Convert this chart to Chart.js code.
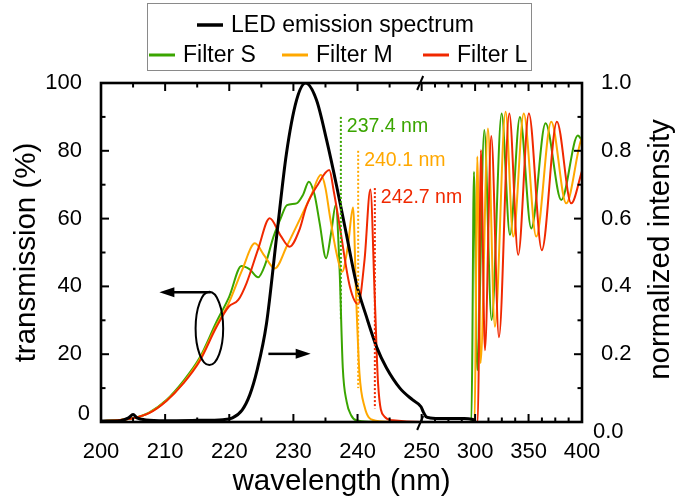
<!DOCTYPE html>
<html>
<head>
<meta charset="utf-8">
<script src="https://cdn.jsdelivr.net/npm/chart.js@4.4.1/dist/chart.umd.min.js"></script>
<style>
html,body{margin:0;padding:0;background:#fff;}
canvas{display:block;}
</style>
</head>
<body>
<canvas id="c" width="686" height="500"></canvas>
<script>
// ---------------- data ----------------
const xTicks = [200, 210, 220, 230, 240, 250, 300, 350, 400];
const xMinorTicks = [205, 215, 225, 235, 245, 262.5, 275, 287.5, 312.5, 325, 337.5, 362.5, 375, 387.5];
const yLeftTicks = [0, 20, 40, 60, 80, 100];
const yLeftMinor = [10, 30, 50, 70, 90];
const yRightTicks = [0, 0.2, 0.4, 0.6, 0.8, 1.0];
const yRightMinor = [0.1, 0.3, 0.5, 0.7, 0.9];

const seriesLabels = ['LED emission spectrum', 'Filter S', 'Filter M', 'Filter L'];
const seriesColors = ['#000000', '#3aa500', '#ffa800', '#f02800'];

const ledWl = [200,203,204.3,205,205.6,207,210,215,219,220.5,222,223.2,224.3,225.8,227.4,228.9,230.5,231.9,233.6,235.2,236.7,238.3,239.8,241.4,243.0,244.5,246.6,248.6,249.9,251.5,254,258,270,290,297,300];
const ledI  = [0.003,0.004,0.012,0.022,0.012,0.006,0.004,0.005,0.007,0.012,0.035,0.08,0.15,0.29,0.55,0.79,0.95,1.0,0.95,0.83,0.70,0.55,0.41,0.31,0.22,0.16,0.10,0.065,0.045,0.03,0.016,0.012,0.01,0.01,0.008,0.005];

const sWl = [200,203,205,207.5,210.2,212.8,215.4,218,220,221.9,223.2,224.5,225.7,226.9,228,229,230.5,231.5,232.4,233.3,234.1,235.1,235.9,236.6,237.2,237.7,238.3,239,239.8,242,250,296.5,297.5,298.3,298.9,302,308.6,315.4,324.8,332.6,341.9,352.5,365.9,380.6,396.1,400];
const sT  = [0.3,0.6,1.1,2.8,6.5,12,19,29.5,37,46,45,42.7,47,54.7,60,64,64.5,67,70.9,67,58.6,48.3,56,64,45,16,6,2,0.5,0.1,0,0,25,62,73.8,15.3,86.1,30.1,91,55.2,90,57.1,88.1,65.5,84.5,83];

const mWl = [200,203,205,207.5,210.2,212.8,215.4,218,219.9,222,224.0,225.5,227.1,229,231.2,232.8,234.3,235.0,235.7,236.7,237.6,238.5,239.3,239.8,240.3,241.1,242.4,245,250,299.5,300.5,301.3,302,305.1,312,318.5,328.5,335.7,345.5,357.2,371.2,385.2,398,400];
const mT  = [0.3,0.6,1.1,2.7,6.3,11.5,18.5,28.5,35,44.8,52.7,49,45.3,52,60.6,67,72.9,69,60.6,50,44.3,52,63.3,36,14.4,4.5,0.6,0.1,0,0,25,62,78.3,17.4,86.6,28.1,91.5,54.7,91,54.7,88.6,64.5,82,84];

const lWl = [200,203,205,207.5,210.2,212.8,215.4,218,219.9,221.4,222.7,224.5,226.3,228,229.4,231,232,233.8,235.6,236.3,237.2,238.8,240.1,241.1,242,242.7,243.2,244.2,245.5,250,302.5,303.5,304.5,305.4,309.2,315.1,322.3,332,340.3,350.3,362.4,376.5,389.9,400];
const lT  = [0.3,0.6,1.1,2.6,6.2,11.3,18,28,34,36,41,51,60.1,55,51.7,57,63.5,70,74.3,68,58,40,34.8,48,68.6,36,11.4,1.6,0.5,0,0,20,60,80.2,21.2,84.4,25,91,49.3,91,50.7,88.6,64.5,74];

// cut-off annotations (wavelength, top %, bottom %)
const cutWl = [237.4, 240.1, 242.7];
const cutTop = [90, 80, 69];
const cutBottom = [30, 10, 4];

// axis break
const BREAK_AT = 250;
const COMPRESS = 6;

// ---------------- broken x scale ----------------
class BrokenScale extends Chart.LinearScale {
  toU(v) { return v <= BREAK_AT ? v : BREAK_AT + (v - BREAK_AT) / COMPRESS; }
  fromU(u) { return u <= BREAK_AT ? u : BREAK_AT + (u - BREAK_AT) * COMPRESS; }
  getPixelForValue(v) {
    if (v === null || v === undefined) return NaN;
    const a = this.toU(this.min), b = this.toU(this.max);
    return this.getPixelForDecimal((this.toU(v) - a) / (b - a));
  }
  getValueForPixel(p) {
    const a = this.toU(this.min), b = this.toU(this.max);
    return this.fromU(a + this.getDecimalForPixel(p) * (b - a));
  }
  buildTicks() { return xTicks.map(v => ({ value: v })); }
}
BrokenScale.id = 'broken';
BrokenScale.defaults = {};
Chart.register(BrokenScale);

Chart.defaults.font.family = "'Liberation Sans', Arial, sans-serif";
Chart.defaults.color = '#000';

const pts = (xs, ys) => xs.map((x, i) => ({ x: x, y: ys[i] }));

// ---------------- decorations plugin ----------------
const deco = {
  id: 'deco',
  afterDatasetsDraw(chart) {
    const { ctx, chartArea: a, scales: { x, y, y1 } } = chart;
    const ds = chart.data.datasets;
    ctx.save();

    // cut-off lines + labels
    ctx.lineWidth = 2;
    ctx.setLineDash([2, 2]);
    cutWl.forEach((w, i) => {
      const px = x.getPixelForValue(w);
      ctx.strokeStyle = ds[i + 1].borderColor;
      ctx.beginPath();
      ctx.moveTo(px, y.getPixelForValue(cutTop[i]));
      ctx.lineTo(px, y.getPixelForValue(cutBottom[i]));
      ctx.stroke();
    });
    ctx.setLineDash([]);
    ctx.font = "19.5px 'Liberation Sans', Arial, sans-serif";
    ctx.textBaseline = 'middle';
    ctx.textAlign = 'left';
    cutWl.forEach((w, i) => {
      ctx.fillStyle = ds[i + 1].borderColor;
      ctx.fillText(w.toFixed(1) + ' nm', x.getPixelForValue(w) + 6, y.getPixelForValue(cutTop[i]) + 10);
    });

    // ellipse + arrows
    ctx.strokeStyle = '#000';
    ctx.fillStyle = '#000';
    ctx.lineWidth = 2;
    const ecx = x.getPixelForValue(216.9), ecy = y.getPixelForValue(27.6);
    const erx = x.getPixelForValue(219.05) - ecx, ery = ecy - y.getPixelForValue(38.4);
    ctx.beginPath();
    ctx.ellipse(ecx, ecy, erx, ery, 0, 0, Math.PI * 2);
    ctx.stroke();
    const arrow = (x0, x1, yy) => {
      const dir = Math.sign(x1 - x0);
      ctx.lineWidth = 2.5;
      ctx.beginPath();
      ctx.moveTo(x0, yy);
      ctx.lineTo(x1 - dir * 12, yy);
      ctx.stroke();
      ctx.beginPath();
      ctx.moveTo(x1, yy);
      ctx.lineTo(x1 - dir * 15, yy - 5);
      ctx.lineTo(x1 - dir * 15, yy + 5);
      ctx.closePath();
      ctx.fill();
    };
    arrow(x.getPixelForValue(217.1), x.getPixelForValue(209.1), y.getPixelForValue(38.3));
    arrow(x.getPixelForValue(226.1), x.getPixelForValue(232.7), y.getPixelForValue(20.1));

    // ticks (inward)
    ctx.strokeStyle = '#000';
    ctx.lineWidth = 2;
    const seg = (x0, y0, x1, y1_) => { ctx.beginPath(); ctx.moveTo(x0, y0); ctx.lineTo(x1, y1_); ctx.stroke(); };
    xTicks.forEach(v => { const p = x.getPixelForValue(v); seg(p, a.bottom, p, a.bottom - 8); seg(p, a.top, p, a.top + 8); });
    xMinorTicks.forEach(v => { const p = x.getPixelForValue(v); seg(p, a.bottom, p, a.bottom - 4.5); seg(p, a.top, p, a.top + 4.5); });
    yLeftTicks.forEach(v => { const p = y.getPixelForValue(v); seg(a.left, p, a.left + 8, p); });
    yLeftMinor.forEach(v => { const p = y.getPixelForValue(v); seg(a.left, p, a.left + 4.5, p); });
    yRightTicks.forEach(v => { const p = y1.getPixelForValue(v); seg(a.right, p, a.right - 8, p); });
    yRightMinor.forEach(v => { const p = y1.getPixelForValue(v); seg(a.right, p, a.right - 4.5, p); });

    // frame
    ctx.lineWidth = 2.6;
    ctx.strokeRect(a.left, a.top, a.right - a.left, a.bottom - a.top);

    // break marks
    const bx = x.getPixelForValue(BREAK_AT) - 1.5;
    ctx.lineWidth = 2;
    seg(bx - 3, a.top + 7, bx + 3, a.top - 7);
    seg(bx - 3, a.bottom + 8, bx + 3, a.bottom - 6);

    // zero labels (offset like the original)
    ctx.fillStyle = '#000';
    ctx.font = "22px 'Liberation Sans', Arial, sans-serif";
    ctx.textBaseline = 'middle';
    ctx.textAlign = 'right';
    ctx.fillText(String(yLeftTicks[0]), a.left - 11, y.getPixelForValue(yLeftTicks[0]) - 8);
    ctx.textAlign = 'left';
    ctx.fillText(yRightTicks[0].toFixed(1), a.right + 11, y1.getPixelForValue(yRightTicks[0]) + 10);

    // right axis title (reads bottom to top)
    ctx.save();
    ctx.font = "29.5px 'Liberation Sans', Arial, sans-serif";
    ctx.translate(669, (a.top + a.bottom) / 2 - 3);
    ctx.rotate(-Math.PI / 2);
    ctx.textAlign = 'center';
    ctx.textBaseline = 'alphabetic';
    ctx.fillText('normalized intensity', 0, 0);
    ctx.restore();

    // legend
    ctx.strokeStyle = '#8a8a8a';
    ctx.lineWidth = 1;
    ctx.strokeRect(147.5, 3.5, 384, 67);
    ctx.font = "23px 'Liberation Sans', Arial, sans-serif";
    ctx.textAlign = 'left';
    ctx.textBaseline = 'middle';
    const legendItems = [
      { i: 0, lx: 197, ly: 25 },
      { i: 1, lx: 149, ly: 55 },
      { i: 2, lx: 282, ly: 55 },
      { i: 3, lx: 423, ly: 55 }
    ];
    legendItems.forEach(it => {
      ctx.strokeStyle = ds[it.i].borderColor;
      ctx.lineWidth = it.i === 0 ? 3.5 : 3;
      seg(it.lx, it.ly, it.lx + 26, it.ly);
      ctx.fillStyle = '#000';
      ctx.fillText(ds[it.i].label, it.lx + 34, it.ly + 1);
    });
    ctx.restore();
  }
};

new Chart(document.getElementById('c'), {
  type: 'line',
  data: {
    datasets: [
      { label: seriesLabels[0], data: pts(ledWl, ledI), borderColor: seriesColors[0], borderWidth: 3, yAxisID: 'y1', order: 0 },
      { label: seriesLabels[1], data: pts(sWl, sT), borderColor: seriesColors[1], borderWidth: 2, yAxisID: 'y', order: 3 },
      { label: seriesLabels[2], data: pts(mWl, mT), borderColor: seriesColors[2], borderWidth: 2, yAxisID: 'y', order: 2 },
      { label: seriesLabels[3], data: pts(lWl, lT), borderColor: seriesColors[3], borderWidth: 2, yAxisID: 'y', order: 1 }
    ]
  },
  options: {
    responsive: false,
    animation: false,
    devicePixelRatio: 1,
    layout: { padding: { top: 83, left: 0, right: 0, bottom: 0 } },
    elements: { point: { radius: 0 }, line: { cubicInterpolationMode: 'monotone', fill: false } },
    plugins: { legend: { display: false }, tooltip: { enabled: false } },
    scales: {
      x: {
        type: 'broken', min: 200, max: 400, position: 'bottom',
        grid: { display: false }, border: { display: false },
        ticks: { autoSkip: false, maxRotation: 0, padding: 9, font: { size: 22 }, color: '#000', callback: v => String(v) },
        title: { display: true, text: 'wavelength (nm)', font: { size: 29.5 }, color: '#000', padding: { top: 0, bottom: 0 } },
        afterFit(s) { s.height = 78; }
      },
      y: {
        position: 'left', min: 0, max: 100,
        grid: { display: false }, border: { display: false },
        afterBuildTicks(s) { s.ticks = yLeftTicks.map(v => ({ value: v })); },
        ticks: { padding: 11, font: { size: 22 }, color: '#000', callback: v => v === 0 ? '' : String(v) },
        title: { display: true, text: 'transmission (%)', font: { size: 29.5 }, color: '#000', padding: { top: 9, bottom: 0 } },
        afterFit(s) { s.width = 101; }
      },
      y1: {
        position: 'right', min: 0, max: 1,
        grid: { display: false }, border: { display: false },
        afterBuildTicks(s) { s.ticks = yRightTicks.map(v => ({ value: v })); },
        ticks: { padding: 11, font: { size: 22 }, color: '#000', callback: v => v === 0 ? '' : v.toFixed(1) },
        afterFit(s) { s.width = 104; }
      }
    }
  },
  plugins: [deco]
});
</script>
</body>
</html>
